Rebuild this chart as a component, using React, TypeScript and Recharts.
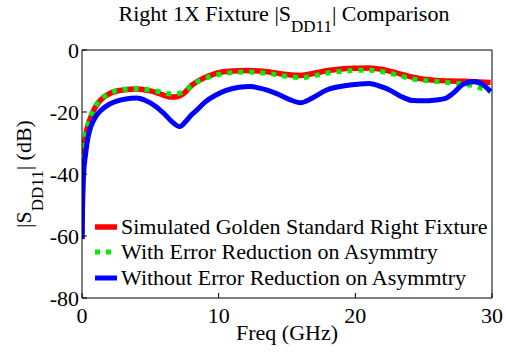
import { LineChart, Line, XAxis, YAxis, Legend, Label } from 'recharts';

const FONT = 'Liberation Serif, Tinos, DejaVu Serif, serif';

// frequency (GHz) / |SDD11| (dB) samples for each trace
const goldenFreq = [0, 0.05, 0.15, 0.3, 0.5, 0.8, 1.2, 1.6, 2, 2.5, 3, 4, 5, 5.5, 6, 6.5, 7, 7.5, 8, 8.5, 9, 9.5, 10, 11, 12, 13, 14, 15, 16, 17, 18, 19, 20, 21, 22, 23, 24, 25, 26, 27, 28, 29, 29.9];
const goldenDb = [-61, -40, -32, -27, -23.5, -20, -17, -15.2, -14.1, -13.3, -12.9, -12.6, -13.2, -13.8, -14.6, -15.2, -15, -13.8, -11.5, -10, -8.9, -8, -7.3, -6.8, -6.6, -6.8, -7.3, -7.9, -8.2, -7.5, -6.6, -6.1, -5.9, -5.8, -6.3, -7.4, -8.6, -9.4, -9.8, -10, -10.1, -10.3, -10.5];

const reducedFreq = [0, 0.05, 0.15, 0.3, 0.5, 0.8, 1.2, 1.6, 2, 2.5, 3, 4, 5, 5.5, 6, 6.5, 7, 7.5, 8, 8.5, 9, 9.5, 10, 11, 12, 13, 14, 15, 16, 17, 18, 19, 20, 21, 22, 23, 24, 25, 26, 27, 28, 28.8, 29.4, 29.9];
const reducedDb = [-60, -40, -31.5, -26.5, -23, -19.6, -16.7, -15, -13.9, -13.1, -12.7, -12.5, -12.9, -13.3, -13.8, -14.2, -14.1, -13.2, -11.6, -10.2, -9.2, -8.4, -7.9, -7.3, -7.1, -7.3, -7.8, -8.5, -8.9, -8.3, -7.4, -6.9, -6.6, -6.5, -7, -8, -9.2, -9.8, -10.2, -10.6, -11, -11.8, -12.6, -13.4];

const rawFreq = [0, 0.05, 0.12, 0.25, 0.45, 0.65, 1, 1.4, 2, 2.6, 3.2, 4, 4.6, 5.4, 6, 6.6, 7.15, 7.6, 8, 8.4, 9, 9.8, 10.5, 11.5, 12.3, 13, 14.2, 15.2, 16, 16.8, 17.9, 19.6, 21, 22, 22.5, 23.5, 24.2, 25, 25.9, 26.6, 27.2, 27.8, 28.3, 28.7, 29.2, 29.9];
const rawDb = [-61, -48, -40, -34, -28, -24.7, -21.5, -19.4, -17.5, -16.4, -15.8, -15.5, -16.2, -18.2, -20.5, -23.2, -24.7, -23, -21, -19.4, -16.8, -14.5, -13.1, -12, -11.8, -12.3, -14, -16, -17, -15.6, -12.9, -11.3, -10.8, -12, -12.9, -15.3, -16.3, -16.4, -16.1, -15.6, -13.8, -11.3, -10.4, -10.2, -10.8, -13.4];

const xTicks = [0, 10, 20, 30];
const yTicks = [-80, -60, -40, -20, 0];

const seriesNames = [
  'Simulated Golden Standard Right Fixture',
  'With Error Reduction on Asymmtry',
  'Without Error Reduction on Asymmtry',
];

const toPoints = (f: number[], v: number[]) => f.map((x, i) => ({ f: x, db: v[i] }));

const goldenData = toPoints(goldenFreq, goldenDb);
const reducedData = toPoints(reducedFreq, reducedDb);
const rawData = toPoints(rawFreq, rawDb);

const styles = [
  { color: '#ff0000', width: 5.5, dash: undefined as string | undefined },
  { color: '#00ee00', width: 5, dash: '5 6' },
  { color: '#0000ff', width: 5, dash: undefined as string | undefined },
];

function LegendBox() {
  return (
    <div style={{ fontFamily: FONT, fontSize: 22, color: '#000' }}>
      {seriesNames.map((name, i) => (
        <div key={name} style={{ display: 'flex', alignItems: 'center', height: 25.5, whiteSpace: 'nowrap' }}>
          <svg width={24} height={10} style={{ marginRight: 2 }}>
            <line x1={0} y1={5} x2={22} y2={5} stroke={styles[i].color} strokeWidth={styles[i].width} strokeDasharray={styles[i].dash} />
          </svg>
          <span>{name}</span>
        </div>
      ))}
    </div>
  );
}

const yLabel = () => (
  <text transform="translate(31,174) rotate(-90)" textAnchor="middle" fontFamily={FONT} fontSize={22} fill="#000">
    |S<tspan dy={12} fontSize={17}>DD11</tspan>
    <tspan dy={-12}>| (dB)</tspan>
  </text>
);

const xLabel = () => (
  <text x={287} y={340} textAnchor="middle" fontFamily={FONT} fontSize={22} fill="#000">
    Freq (GHz)
  </text>
);

export default function App() {
  const tickStyle = { fontFamily: FONT, fontSize: 22, fill: '#000' };
  return (
    <div style={{ position: 'absolute', left: 0, top: 0, width: 506, height: 352, background: '#fff', fontFamily: FONT }}>
      <div
        style={{
          position: 'absolute',
          left: 0,
          width: 506,
          top: 2,
          textAlign: 'center',
          fontFamily: FONT,
          fontSize: 22,
          paddingLeft: 62,
          boxSizing: 'border-box',
          lineHeight: '24px',
          whiteSpace: 'nowrap',
        }}
      >
        Right 1X Fixture |S
        <span style={{ fontSize: 17, position: 'relative', top: 11 }}>DD11</span>| Comparison
      </div>
      <LineChart width={506} height={352} margin={{ top: 49, right: 13, bottom: 24, left: 0 }} style={{ fontFamily: FONT }}>
        <XAxis
          dataKey="f"
          type="number"
          domain={[0, 30]}
          ticks={xTicks}
          allowDataOverflow
          stroke="#000"
          tickSize={-5}
          tickMargin={14}
          tick={tickStyle}
          height={30}
        >
          <Label content={xLabel} />
        </XAxis>
        <XAxis
          xAxisId="top"
          orientation="top"
          type="number"
          domain={[0, 30]}
          ticks={xTicks}
          stroke="#000"
          tickSize={-5}
          tick={false}
          height={1}
        />
        <YAxis
          type="number"
          domain={[-80, 0]}
          ticks={yTicks}
          allowDataOverflow
          stroke="#000"
          tickSize={-5}
          tickMargin={8}
          tick={tickStyle}
          width={82}
        >
          <Label content={yLabel} />
        </YAxis>
        <YAxis
          yAxisId="right"
          orientation="right"
          type="number"
          domain={[-80, 0]}
          ticks={yTicks}
          stroke="#000"
          tickSize={-5}
          tick={false}
          width={1}
        />
        <Line data={goldenData} dataKey="db" type="monotone" stroke={styles[0].color} strokeWidth={styles[0].width} dot={false} isAnimationActive={false} />
        <Line data={reducedData} dataKey="db" type="monotone" stroke={styles[1].color} strokeWidth={styles[1].width} strokeDasharray={styles[1].dash} dot={false} isAnimationActive={false} />
        <Line data={rawData} dataKey="db" type="monotone" stroke={styles[2].color} strokeWidth={styles[2].width} dot={false} isAnimationActive={false} />
        <Legend
          layout="vertical"
          align="center"
          verticalAlign="middle"
          content={() => <LegendBox />}
          wrapperStyle={{ left: 95, top: 214, width: 400, height: 80 }}
        />
      </LineChart>
    </div>
  );
}
